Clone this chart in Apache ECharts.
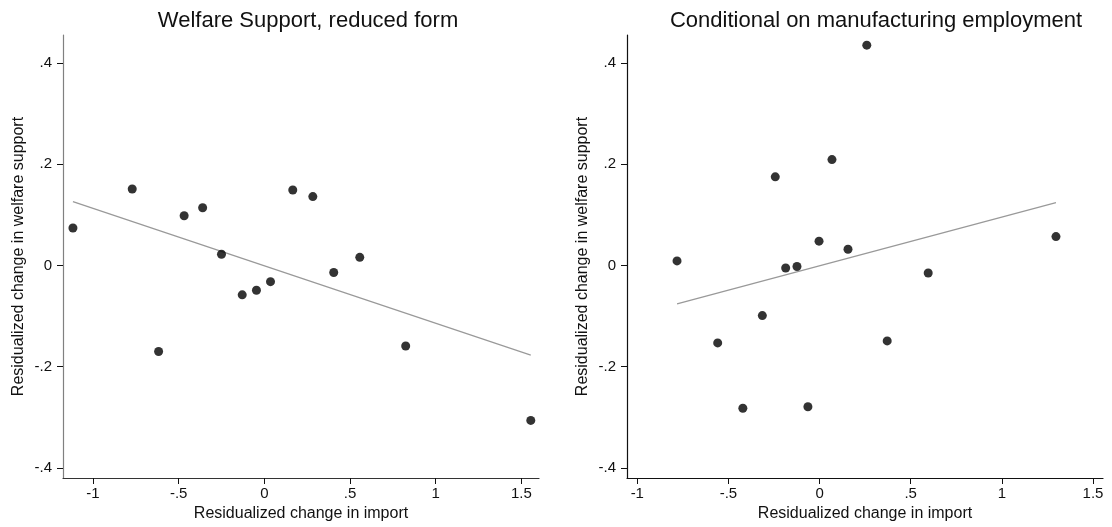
<!DOCTYPE html>
<html>
<head>
<meta charset="utf-8">
<script src="https://cdn.jsdelivr.net/npm/echarts@6/dist/echarts.min.js"></script>
<style>
html,body{margin:0;padding:0;background:#fff;}
#chart{width:1112px;height:527px;}
</style>
</head>
<body>
<div id="chart"></div>
<script>
// ---- data ----
const titles = ["Welfare Support, reduced form", "Conditional on manufacturing employment"];
const xAxisTitle = "Residualized change in import";
const yAxisTitle = "Residualized change in welfare support";
const xTicks = [-1, -0.5, 0, 0.5, 1, 1.5];
const yTicks = [-0.4, -0.2, 0, 0.2, 0.4];

const leftX = [-1.117, -0.771, -0.617, -0.468, -0.360, -0.250, -0.129, -0.046, 0.036, 0.166, 0.283, 0.405, 0.557, 0.825, 1.555];
const leftY = [0.074, 0.151, -0.170, 0.098, 0.114, 0.022, -0.058, -0.049, -0.032, 0.149, 0.136, -0.014, 0.016, -0.159, -0.306];
const leftFitX = [-1.117, 1.555];
const leftFitY = [0.126, -0.177];

const rightX = [-0.782, -0.559, -0.421, -0.314, -0.243, -0.186, -0.124, -0.064, -0.003, 0.068, 0.156, 0.259, 0.371, 0.596, 1.297];
const rightY = [0.009, -0.153, -0.282, -0.099, 0.175, -0.005, -0.002, -0.279, 0.048, 0.209, 0.032, 0.435, -0.149, -0.015, 0.057];
const rightFitX = [-0.782, 1.297];
const rightFitY = [-0.076, 0.124];

// ---- helpers ----
const FONT = "'Liberation Sans', Arial, Helvetica, sans-serif";
function fmt(v) {
  const s = (+(+v).toFixed(2)).toString();
  return s.replace(/^(-?)0\./, '$1.');
}
function zip(xs, ys) { return xs.map((x, i) => [x, ys[i]]); }

function xAxisCfg(gi, min, max, lineColor) {
  return {
    type: 'value', gridIndex: gi, min: min, max: max,
    name: xAxisTitle, nameLocation: 'middle', nameGap: 28,
    nameTextStyle: {fontFamily: FONT, fontSize: 16, color: '#111'},
    axisLine: {show: true, onZero: false, lineStyle: {color: lineColor, width: 1.2}},
    axisTick: {show: true, inside: false, length: 6, customValues: xTicks, lineStyle: {color: '#111', width: 1}},
    axisLabel: {show: true, margin: 8, customValues: xTicks, formatter: fmt, fontFamily: FONT, fontSize: 15, color: '#111'},
    splitLine: {show: false}
  };
}
function yAxisCfg(gi, lineColor) {
  return {
    type: 'value', gridIndex: gi, min: -0.4197, max: 0.455,
    name: yAxisTitle, nameLocation: 'middle', nameGap: 36, nameRotate: 90,
    nameTextStyle: {fontFamily: FONT, fontSize: 16, color: '#111'},
    axisLine: {show: true, onZero: false, lineStyle: {color: lineColor, width: 1.2}},
    axisTick: {show: true, inside: false, length: 6, customValues: yTicks, lineStyle: {color: '#111', width: 1}},
    axisLabel: {show: true, margin: 11, customValues: yTicks, formatter: fmt, fontFamily: FONT, fontSize: 15, color: '#111'},
    splitLine: {show: false}
  };
}

const chart = echarts.init(document.getElementById('chart'), null, {renderer: 'canvas'});
const option = {
  animation: false,
  backgroundColor: '#fff',
  title: [
    {text: titles[0], left: 303, top: 5, textAlign: 'center', textStyle: {fontFamily: FONT, fontSize: 22, fontWeight: 'normal', color: '#111'}},
    {text: titles[1], left: 871, top: 5, textAlign: 'center', textStyle: {fontFamily: FONT, fontSize: 22, fontWeight: 'normal', color: '#111'}}
  ],
  grid: [
    {left: 63, top: 35, width: 476, height: 444, containLabel: false},
    {left: 627, top: 35, width: 476, height: 444, containLabel: false}
  ],
  xAxis: [
    xAxisCfg(0, -1.175, 1.603, '#333'),
    xAxisCfg(1, -1.0565, 1.555, '#111')
  ],
  yAxis: [
    yAxisCfg(0, '#808080'),
    yAxisCfg(1, '#111')
  ],
  series: [
    {type: 'line', xAxisIndex: 0, yAxisIndex: 0, data: zip(leftFitX, leftFitY), showSymbol: false, silent: true,
     lineStyle: {color: '#999', width: 1.2}, z: 1},
    {type: 'scatter', xAxisIndex: 0, yAxisIndex: 0, data: zip(leftX, leftY), symbol: 'circle', symbolSize: 9,
     itemStyle: {color: '#000'}, z: 2},
    {type: 'line', xAxisIndex: 1, yAxisIndex: 1, data: zip(rightFitX, rightFitY), showSymbol: false, silent: true,
     lineStyle: {color: '#999', width: 1.2}, z: 1},
    {type: 'scatter', xAxisIndex: 1, yAxisIndex: 1, data: zip(rightX, rightY), symbol: 'circle', symbolSize: 9,
     itemStyle: {color: '#000'}, z: 2}
  ]
};
chart.setOption(option);
</script>
</body>
</html>
